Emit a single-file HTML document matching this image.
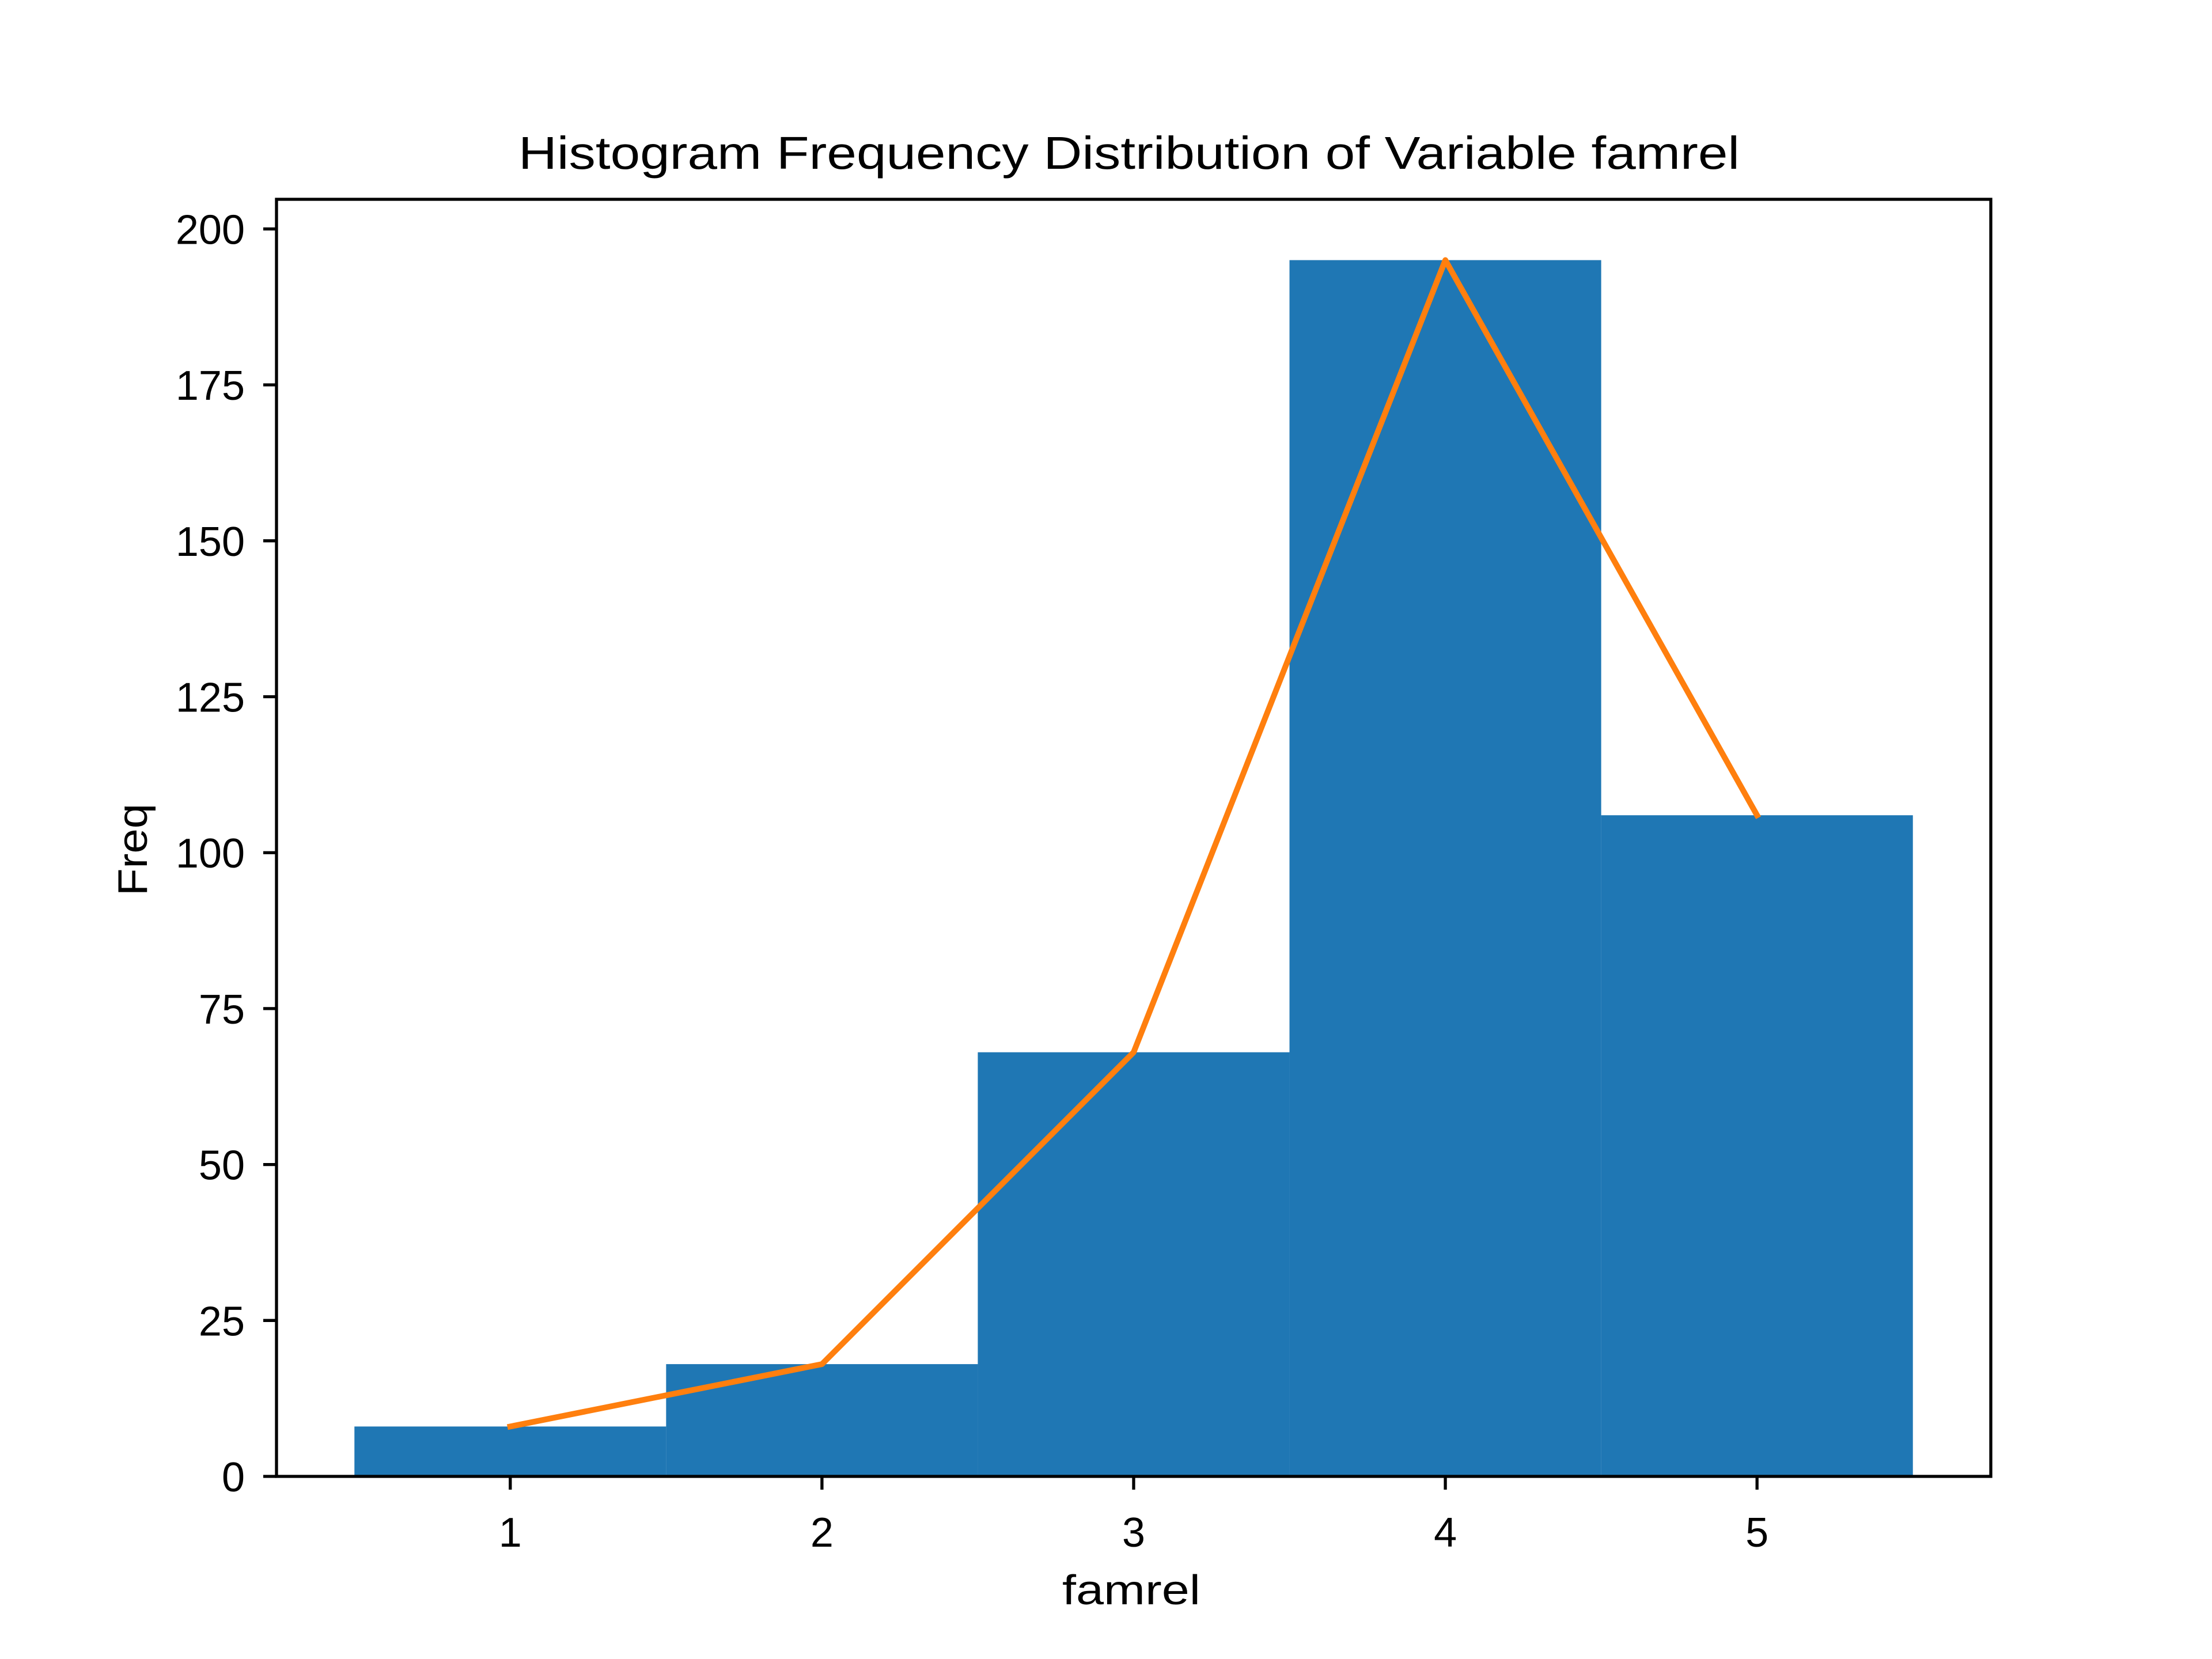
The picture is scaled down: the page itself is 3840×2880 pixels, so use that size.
<!DOCTYPE html>
<html><head><meta charset="utf-8"><style>html,body{margin:0;padding:0;background:#fff}svg{display:block}</style></head>
<body>
<svg id="chart" width="3840" height="2880" viewBox="0 0 3840 2880" xmlns="http://www.w3.org/2000/svg" font-family="'WenQuanYi Zen Hei','Liberation Sans',sans-serif">
<rect width="3840" height="2880" fill="#fff"/>
<g id="plot"></g>
<text x="1960" y="293" font-size="80" text-anchor="middle" textLength="2120" lengthAdjust="spacingAndGlyphs">Histogram Frequency Distribution of Variable famrel</text>
<text x="1964" y="2785" font-size="72" text-anchor="middle" textLength="240" lengthAdjust="spacingAndGlyphs">famrel</text>
<text x="0" y="0" font-size="72" text-anchor="middle" transform="translate(255,1475) rotate(-90)" textLength="160" lengthAdjust="spacingAndGlyphs">Freq</text>
</svg>
<script>
const categories = [1, 2, 3, 4, 5];
const freqs = [8, 18, 68, 195, 106];
const yTicks = [0, 25, 50, 75, 100, 125, 150, 175, 200];
const xTicks = [1, 2, 3, 4, 5];

const L = 480, R = 3456, T = 346, B = 2563;
const xMin = 0.25, xMax = 5.75, yMin = 0, yMax = Math.max(...freqs) * 1.05;
const sx = v => L + (v - xMin) / (xMax - xMin) * (R - L);
const sy = v => B - (v - yMin) / (yMax - yMin) * (B - T);
const NS = 'http://www.w3.org/2000/svg';
const g = document.getElementById('plot');
function mk(tag, attrs) { const e = document.createElementNS(NS, tag); for (const k in attrs) e.setAttribute(k, attrs[k]); g.appendChild(e); return e; }

categories.forEach((c, i) => {
  const r = mk('rect', {x: sx(c - 0.5), y: sy(freqs[i]), width: sx(c + 0.5) - sx(c - 0.5), height: sy(0) - sy(freqs[i]), fill: '#1f77b4'});
  
  
});
const pts = categories.map((c, i) => sx(c) + ',' + sy(freqs[i])).join(' ');
const line = mk('polyline', {points: pts, fill: 'none', stroke: '#ff7f0e', 'stroke-width': 10, 'stroke-linejoin': 'round', 'stroke-linecap': 'square'});



const frame = mk('rect', {x: L, y: T, width: R - L, height: B - T, fill: 'none', stroke: '#000', 'stroke-width': 5.3});



xTicks.forEach(t => {
  const tk = mk('line', {x1: sx(t), x2: sx(t), y1: B, y2: B + 23, stroke: '#000', 'stroke-width': 5.3});
  
  
  const lb = mk('text', {x: sx(t), y: 2685, 'font-size': 72, 'text-anchor': 'middle'});
  lb.textContent = t;
  
  
});
yTicks.forEach(t => {
  const tk = mk('line', {x1: L - 23, x2: L, y1: sy(t), y2: sy(t), stroke: '#000', 'stroke-width': 5.3});
  
  
  const lb = mk('text', {x: 425, y: sy(t) + 26, 'font-size': 72, 'text-anchor': 'end'});
  lb.textContent = t;
  
  
});
</script>
</body></html>
